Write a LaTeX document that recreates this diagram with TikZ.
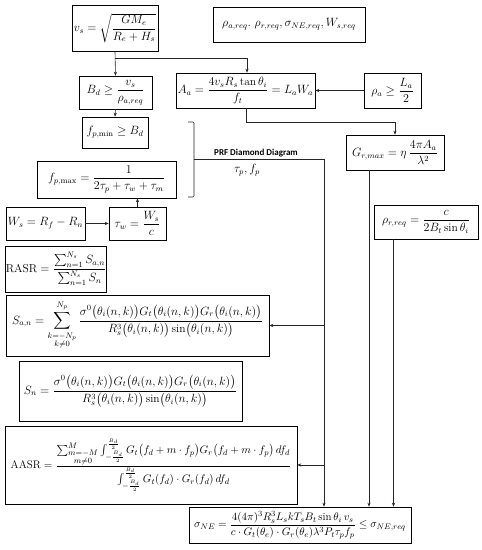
\documentclass[tikz,border=0pt]{standalone}
\usepackage{amsmath}
\usepackage{fontspec}
\newfontfamily\lblfont{Carlito}
\usetikzlibrary{arrows.meta}
\begin{document}
\begin{tikzpicture}[x=1pt,y=-1pt,
  bx/.style 2 args={draw=black, line width=0.6pt, minimum width=#1pt, minimum height=#2pt, inner sep=0pt, font=\fontsize{11.5}{13.5}\selectfont},
  conn/.style={draw=black!85, line width=0.6pt},
  arr/.style={conn, -{Stealth[length=4pt,width=3.2pt]}}]
\useasboundingbox (0,0) rectangle (482,550);
% boxes
\node[bx={86}{46}] (vs) at (115,28) {$v_s=\sqrt{\dfrac{GM_e}{R_e+H_s}}$};
\node[bx={152}{35}] (req) at (289,24.5) {$\rho_{a,req}.\ \rho_{r,req},\sigma_{NE,req},W_{s,req}$};
\node[bx={73}{33}] (Bd) at (115.5,92.5) {$B_d\ge\dfrac{v_s}{\rho_{a,req}}$};
\node[bx={139}{35}] (Aa) at (245.5,90.5) {$A_a=\dfrac{4v_sR_s\tan\theta_i}{f_t}=L_aW_a$};
\node[bx={57}{35}] (rhoa) at (392.5,90.5) {$\rho_a\ge\dfrac{L_a}{2}$};
\node[bx={66}{31}] (fpmin) at (115,132.5) {$f_{p,\min}\ge B_d$};
\node[bx={139}{37}] (fpmax) at (106.5,179.5) {$f_{p,\max}=\dfrac{1}{2\tau_p+\tau_w+\tau_m}$};
\node[bx={98}{35}] (Gr) at (395,152.5) {$G_{r,max}=\eta\,\dfrac{4\pi A_a}{\lambda^2}$};
\node[bx={79}{33}] (Ws) at (45.5,223.5) {$W_s=R_f-R_n$};
\node[bx={57}{33}] (tauw) at (137.5,223.5) {$\tau_w=\dfrac{W_s}{c}$};
\node[bx={104}{34}] (rhor) at (426,222) {$\rho_{r,req}=\dfrac{c}{2B_t\sin\theta_i}$};
\node[bx={100}{46}] (RASR) at (56,269) {$\mathrm{RASR}=\dfrac{\sum_{n=1}^{N_s}S_{a,n}}{\sum_{n=1}^{N_s}S_n}$};
\node[bx={263}{61}] (San) at (137.5,325.5) {$S_{a,n}=\displaystyle\sum_{\substack{k=-N_p\\k\neq0}}^{N_p}\frac{\sigma^0\bigl(\theta_i(n,k)\bigr)G_t\bigl(\theta_i(n,k)\bigr)G_r\bigl(\theta_i(n,k)\bigr)}{R_s^3\bigl(\theta_i(n,k)\bigr)\sin\bigl(\theta_i(n,k)\bigr)}$};
\node[bx={223}{60}] (Sn) at (130.5,391) {$S_n=\dfrac{\sigma^0\bigl(\theta_i(n,k)\bigr)G_t\bigl(\theta_i(n,k)\bigr)G_r\bigl(\theta_i(n,k)\bigr)}{R_s^3\bigl(\theta_i(n,k)\bigr)\sin\bigl(\theta_i(n,k)\bigr)}$};
\node[bx={292}{78}, font=\fontsize{11}{13}\selectfont] (AASR) at (151,465) {$\mathrm{AASR}=\dfrac{\sum_{\substack{m=-M\\m\neq0}}^{M}\int_{-\frac{B_d}{2}}^{\frac{B_d}{2}}G_t\bigl(f_d+m\cdot f_p\bigr)G_r\bigl(f_d+m\cdot f_p\bigr)\,df_d}{\int_{-\frac{B_d}{2}}^{\frac{B_d}{2}}G_t(f_d)\cdot G_r(f_d)\,df_d}$};
\node[bx={222}{36}, font=\fontsize{11}{13}\selectfont] (sig) at (300,525) {$\sigma_{NE}=\dfrac{4(4\pi)^3R_s^3L_skT_sB_t\sin\theta_i\,v_s}{c\cdot G_t(\theta_e)\cdot G_r(\theta_e)\lambda^3P_t\tau_pf_p}\le\sigma_{NE,req}$};
% labels
\node[font=\lblfont\bfseries\fontsize{9}{10}\selectfont, inner sep=0pt] (prf) at (256,153) {PRF Diamond Diagram};
\node[font=\fontsize{11.5}{13}\selectfont, inner sep=0pt] (tp) at (247,170) {$\tau_p,f_p$};
% coordinates
\coordinate (j1) at (115,58);
\coordinate (j2) at (246,122);
\coordinate (br) at (194,159);
\coordinate (bt) at (188,122);
\coordinate (bb) at (188,197);
\coordinate (pv) at (324,159);
% connectors
\draw[arr] (vs.south) -- (Bd.north);
\draw[arr] (j1) -| ([xshift=1.5pt]Aa.north);
\draw[arr] (Bd.south) -- (fpmin.north);
\draw[arr] (rhoa.west) -- (Aa.east);
\draw[arr] (j2 |- Aa.south) -- (j2) -| (Gr.north);
\draw[arr] (Ws.east) -- (tauw.west);
\draw[arr] (tauw.north) -- (tauw.north |- fpmax.south);
\draw[conn, rounded corners=1pt] (bt) -- (bt -| br) -- (bb -| br) -- (bb);
\draw[conn] (br) -- (pv);
\draw[arr] (pv) -- (pv |- sig.north);
\draw[arr] (pv |- San.east) -- (San.east);
\draw[arr] (pv |- AASR.east) -- (AASR.east);
\draw[arr] ([xshift=-26pt]Gr.south) -- ([xshift=-26pt]Gr.south |- sig.north);
\draw[arr] ([xshift=-32.5pt]rhor.south) -- ([xshift=-32.5pt]rhor.south |- sig.north);
\end{tikzpicture}
\end{document}
